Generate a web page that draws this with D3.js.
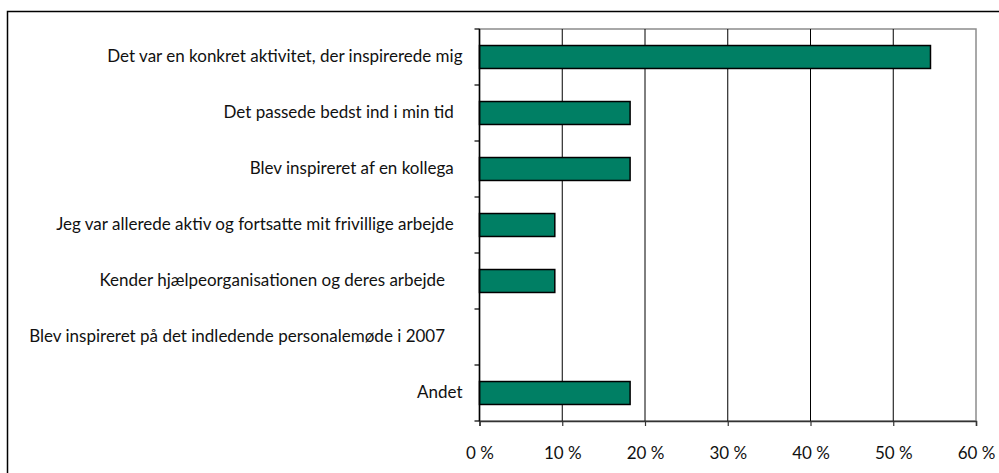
<!DOCTYPE html>
<html lang="da">
<head>
    <meta charset="utf-8"/>
    <title>Hvorfor valgte du at deltage</title>
    <script src="https://d3js.org/d3.v7.min.js"></script>
    <style>
        body { margin: 0; background: #fff; }
        text { font-family: Lato, "Open Sans", sans-serif; fill: #111; white-space: pre; }
    </style>
</head>
<body>
<script>

    // categories, top to bottom (trailing spaces kept as in the original labels)
    var categories = [
        "Det var en konkret aktivitet, der inspirerede mig",
        "Det passede bedst ind i min tid  ",
        "Blev inspireret af en kollega  ",
        "Jeg var allerede aktiv og fortsatte mit frivillige arbejde  ",
        "Kender hjælpeorganisationen og deres arbejde    ",
        "Blev inspireret på det indledende personalemøde i 2007    ",
        "Andet"
    ];
    var values = [54.5, 18.2, 18.2, 9.1, 9.1, 0, 18.2];
    var xTicks = [0, 10, 20, 30, 40, 50, 60];

    var width = 999;
    var height = 473;
    var plot = {left: 479.5, right: 976, top: 29, bottom: 421};

    var rows = categories.map((c, i) => ({name: c, value: values[i]}));

    var svg = d3.select("body")
                .append("svg")
                .attr("width", width)
                .attr("height", height);

    // outer frame, runs off the right and bottom of the picture
    svg.append("rect")
       .attr("x", 7.5)
       .attr("y", 11.5)
       .attr("width", width)
       .attr("height", height)
       .attr("fill", "none")
       .attr("stroke", "#000")
       .attr("stroke-width", 1.5);

    var x = d3.scaleLinear()
              .domain([0, 60])
              .range([plot.left, plot.right]);

    var y = d3.scaleBand()
              .domain(categories)
              .range([plot.top, plot.bottom])
              .padding(0);

    var barH = y.bandwidth() * 0.41;

    // plot area border (grey)
    svg.append("rect")
       .attr("x", plot.left)
       .attr("y", plot.top)
       .attr("width", plot.right - plot.left)
       .attr("height", plot.bottom - plot.top)
       .attr("fill", "none")
       .attr("stroke", "#8c8c8c")
       .attr("stroke-width", 1.5);

    // gridlines
    svg.append("g")
       .selectAll("line")
       .data(xTicks.slice(1, -1))
       .enter()
       .append("line")
       .attr("x1", d => x(d))
       .attr("x2", d => x(d))
       .attr("y1", plot.top)
       .attr("y2", plot.bottom)
       .attr("stroke", "#000")
       .attr("stroke-width", 1);

    // bars
    svg.append("g")
       .selectAll("rect")
       .data(rows.filter(d => d.value > 0))
       .enter()
       .append("rect")
       .attr("x", x(0))
       .attr("y", d => y(d.name) + (y.bandwidth() - barH) / 2)
       .attr("width", d => x(d.value) - x(0))
       .attr("height", barH)
       .attr("fill", "#007f64")
       .attr("stroke", "#000")
       .attr("stroke-width", 1.5);

    // bottom axis
    var xAxis = d3.axisBottom(x)
                  .tickValues(xTicks)
                  .tickSize(5)
                  .tickPadding(33)
                  .tickFormat(d => d + " %");

    var gx = svg.append("g")
                .attr("transform", "translate(0," + plot.bottom + ")")
                .call(xAxis);
    gx.select(".domain").attr("stroke", "#333").attr("stroke-width", 1.5);
    gx.selectAll(".tick line").attr("stroke", "#333").attr("stroke-width", 1.2);
    gx.selectAll(".tick text")
      .attr("font-size", "17px")
      .attr("dy", "0em")
      .style("font-family", "Lato, sans-serif")
      .style("fill", "#111");

    // left axis: ticks at band boundaries
    svg.append("line")
       .attr("x1", plot.left).attr("x2", plot.left)
       .attr("y1", plot.top).attr("y2", plot.bottom)
       .attr("stroke", "#000").attr("stroke-width", 1.5);

    svg.append("g")
       .selectAll("line")
       .data(d3.range(categories.length + 1))
       .enter()
       .append("line")
       .attr("x1", plot.left - 5)
       .attr("x2", plot.left)
       .attr("y1", i => plot.top + i * y.step())
       .attr("y2", i => plot.top + i * y.step())
       .attr("stroke", "#000")
       .attr("stroke-width", 1.2);

    svg.append("g")
       .selectAll("text")
       .data(categories)
       .enter()
       .append("text")
       .attr("x", plot.left - 17)
       .attr("y", d => y(d) + y.bandwidth() / 2)
       .attr("dy", "0.32em")
       .attr("text-anchor", "end")
       .attr("font-size", "17px")
       .text(d => d);

</script>
</body>
</html>
